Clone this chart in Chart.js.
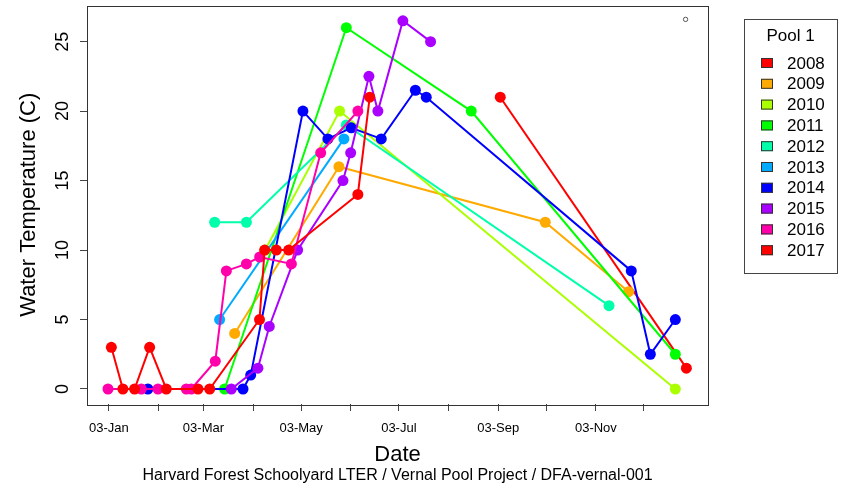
<!DOCTYPE html>
<html>
<head>
<meta charset="utf-8">
<title>Pool 1 - Water Temperature</title>
<script src="https://cdn.jsdelivr.net/npm/chart.js@4.4.1/dist/chart.umd.min.js"></script>
<style>
  html, body { margin: 0; padding: 0; background: #fff; }
  #wrap { width: 844px; height: 487px; }
</style>
</head>
<body>
<div id="wrap"><canvas id="tempChart"></canvas></div>
<script>
// Jour de l'année (1 = 1er janvier) et température de l'eau (C), par année
const days2008 = [247.3, 363.5];
const temps2008 = [21, 1.5];
const days2009 = [81.5, 146.6, 275.4, 327.4];
const temps2009 = [4, 16, 12, 7];
const days2010 = [100.5, 147, 356.6];
const temps2010 = [10, 20, 0];
const days2011 = [75.2, 151.2, 229.2, 356.6];
const temps2011 = [0, 26, 20, 2.5];
const days2012 = [69, 88.8, 151.2, 315.2];
const temps2012 = [12, 12, 19, 6];
const days2013 = [72.1, 149.7];
const temps2013 = [5, 18];
const days2014 = [27.3, 86.7, 91.5, 124.1, 139.7, 154.3, 173, 194.3, 201.1, 329.1, 341, 356.6];
const temps2014 = [0, 0, 1, 20, 18, 18.8, 18, 21.5, 21, 8.5, 2.5, 5];
const days2015 = [79.4, 96, 103.1, 120.8, 149.1, 153.9, 165.3, 170.9, 186.5, 203.8];
const temps2015 = [0, 1.5, 4.5, 10, 15, 17, 22.5, 20, 26.5, 25];
const days2016 = [2.4, 23.2, 33.6, 51.3, 54.4, 69.4, 76.3, 88.8, 97.1, 116.9, 135.2, 158.4];
const temps2016 = [0, 0, 0, 0, 0, 2, 8.5, 9, 9.5, 9, 17, 20];
const days2017 = [4.5, 11.7, 19, 28.4, 38.8, 58.6, 65.9, 97, 100.2, 107.5, 115.2, 158.4, 165.8];
const temps2017 = [3, 0, 0, 3, 0, 0, 0, 5, 10, 10, 10, 14, 21];

const years = ['2008', '2009', '2010', '2011', '2012', '2013', '2014', '2015', '2016', '2017'];
const yearDays = [days2008, days2009, days2010, days2011, days2012, days2013, days2014, days2015, days2016, days2017];
const yearTemps = [temps2008, temps2009, temps2010, temps2011, temps2012, temps2013, temps2014, temps2015, temps2016, temps2017];
const colors = ['#FF0000', '#FFAA00', '#AAFF00', '#00FF00', '#00FFAA', '#00AAFF', '#0000FF', '#AA00FF', '#FF00AA', '#FF0000'];

// Petit cercle vide en haut à droite
const markerDays = [363];
const markerTemps = [26.6];

// Graduations
const xTickDays = [3, 34, 62, 93, 123, 154, 184, 215, 246, 276, 307, 337];
const xTickLabels = ['03-Jan', '', '03-Mar', '', '03-May', '', '03-Jul', '', '03-Sep', '', '03-Nov', ''];
const yTicks = [0, 5, 10, 15, 20, 25];

const FONT = "'Liberation Sans', Arial, sans-serif";
Chart.defaults.font.family = FONT;
Chart.defaults.color = '#000';

const datasets = years.map((year, i) => ({
    label: year,
    data: yearDays[i].map((d, j) => ({ x: d, y: yearTemps[i][j] })),
    borderColor: colors[i],
    backgroundColor: colors[i],
    borderWidth: 2,
    pointRadius: 5.5,
    pointBorderWidth: 0,
    pointHoverRadius: 5.5,
    tension: 0,
    order: years.length - i
}));

datasets.push({
    label: '',
    data: markerDays.map((d, j) => ({ x: d, y: markerTemps[j] })),
    showLine: false,
    pointRadius: 2.2,
    pointBorderWidth: 1,
    pointBorderColor: '#555',
    pointBackgroundColor: '#fff',
    order: 0
});

// Cadre, étiquettes Y verticales, légende et sous-titre façon R
const rStyle = {
    id: 'rStyle',
    afterDraw(chart) {
        const { ctx, chartArea: a, scales } = chart;
        ctx.save();
        ctx.strokeStyle = '#333';
        ctx.lineWidth = 1;
        ctx.strokeRect(Math.round(a.left) + 0.5, Math.round(a.top) + 0.5,
            Math.round(a.right - a.left), Math.round(a.bottom - a.top));

        // étiquettes de l'axe Y, tournées
        ctx.fillStyle = '#000';
        ctx.font = '18px ' + FONT;
        ctx.textAlign = 'center';
        ctx.textBaseline = 'middle';
        scales.y.ticks.forEach(t => {
            const py = scales.y.getPixelForValue(t.value);
            ctx.save();
            ctx.translate(63, py);
            ctx.rotate(-Math.PI / 2);
            ctx.fillText(String(t.value), 0, 0);
            ctx.restore();
        });

        // sous-titre
        ctx.font = '16px ' + FONT;
        ctx.fillText('Harvard Forest Schoolyard LTER / Vernal Pool Project / DFA-vernal-001',
            (a.left + a.right) / 2, 476);

        // légende
        const lx = 744, ly = 19, lw = 93, lh = 254;
        ctx.strokeStyle = '#444';
        ctx.strokeRect(lx + 0.5, ly + 0.5, lw, lh);
        ctx.font = '17px ' + FONT;
        ctx.fillText('Pool 1', lx + lw / 2, ly + 17);
        ctx.textAlign = 'left';
        chart.data.datasets.forEach((ds, i) => {
            if (!ds.label) return;
            const ry = 63 + i * 20.8;
            ctx.fillStyle = ds.borderColor;
            ctx.fillRect(761, ry - 5, 12, 10);
            ctx.strokeStyle = '#333';
            ctx.strokeRect(761.5, ry - 4.5, 11, 9);
            ctx.fillStyle = '#000';
            ctx.fillText(ds.label, 787, ry + 1);
        });
        ctx.restore();
    }
};

const config = {
    type: 'line',
    data: { datasets },
    options: {
        responsive: true,
        maintainAspectRatio: false,
        animation: false,
        layout: { padding: { left: 0, top: 5, right: 136, bottom: 0 } },
        plugins: {
            legend: { display: false },
            tooltip: { enabled: false }
        },
        scales: {
            x: {
                type: 'linear',
                min: -10.7,
                max: 377,
                afterBuildTicks: scale => { scale.ticks = xTickDays.map(v => ({ value: v })); },
                afterFit: scale => { scale.height = 83; },
                ticks: {
                    autoSkip: false,
                    maxRotation: 0,
                    padding: 10,
                    font: { size: 13 },
                    callback: (value, index) => xTickLabels[index]
                },
                grid: { drawOnChartArea: false, drawTicks: true, tickLength: 7, color: '#444' },
                border: { display: false },
                title: {
                    display: true,
                    text: 'Date',
                    font: { size: 22 },
                    padding: { top: 0, bottom: 19 }
                }
            },
            y: {
                type: 'linear',
                min: -1.08,
                max: 27.6,
                afterBuildTicks: scale => { scale.ticks = yTicks.map(v => ({ value: v })); },
                afterFit: scale => { scale.width = 87; },
                ticks: { display: false },
                grid: { drawOnChartArea: false, drawTicks: true, tickLength: 7, color: '#444' },
                border: { display: false },
                title: {
                    display: true,
                    text: 'Water Temperature (C)',
                    font: { size: 22 },
                    padding: { top: 16, bottom: 0 }
                }
            }
        }
    },
    plugins: [rStyle]
};

new Chart(document.getElementById('tempChart'), config);
</script>
</body>
</html>
